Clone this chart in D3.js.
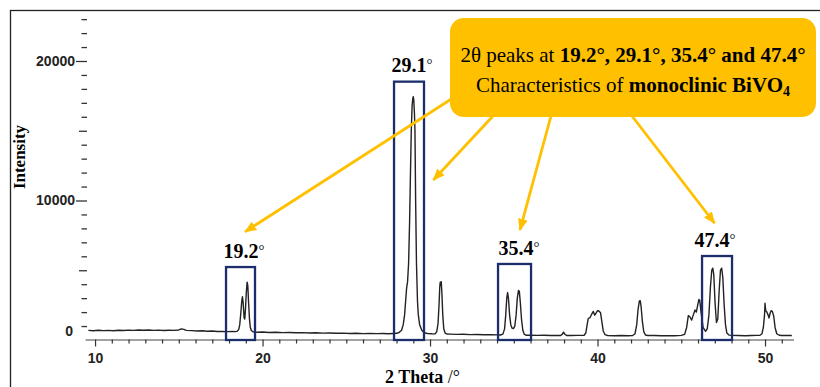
<!DOCTYPE html>
<html>
<head>
<meta charset="utf-8">
<script src="https://cdn.jsdelivr.net/npm/d3@7/dist/d3.min.js"></script>
<style>
  body { margin: 0; background: #fff; }
  svg { display: block; }
</style>
</head>
<body>
<div id="chart"></div>
<script>
////////////////////////////////////////////////////////////////////
////////////////////////////  Data  ////////////////////////////////

// XRD pattern: [2 theta, intensity]
const pattern = [
  [9.6, 690], [9.9, 660], [10.2, 700], [10.5, 670], [10.8, 690], [11.1, 660],
  [11.4, 700], [11.7, 680], [12.0, 710], [12.3, 690], [12.6, 720], [12.9, 700],
  [13.2, 720], [13.5, 690], [13.8, 710], [14.1, 680], [14.4, 700], [14.7, 690],
  [15.0, 720], [15.15, 800], [15.3, 760], [15.45, 690], [15.8, 670], [16.1, 650],
  [16.4, 660], [16.7, 630], [17.0, 640], [17.3, 610], [17.6, 620], [17.9, 600],
  [18.2, 610], [18.4, 600], [18.5, 640], [18.58, 760], [18.64, 1100], [18.7, 1900],
  [18.76, 2800], [18.8, 3100], [18.84, 2700], [18.9, 1600], [18.94, 1500], [18.98, 2200],
  [19.03, 3400], [19.08, 4150], [19.12, 3900], [19.17, 2600], [19.22, 1500], [19.27, 900],
  [19.33, 680], [19.42, 590], [19.55, 570], [19.7, 560], [20.0, 570], [20.4, 540],
  [20.8, 555], [21.2, 530], [21.6, 540], [22.0, 520], [22.4, 530], [22.8, 505],
  [23.2, 515], [23.6, 495], [24.0, 505], [24.4, 480], [24.8, 490], [25.2, 470],
  [25.6, 480], [26.0, 460], [26.4, 470], [26.8, 455], [27.2, 465], [27.5, 450],
  [27.8, 470], [28.0, 480], [28.15, 540], [28.3, 700], [28.4, 1100], [28.48, 1800],
  [28.55, 2900], [28.6, 3700], [28.66, 4200], [28.72, 5500], [28.78, 8500], [28.84, 12500],
  [28.88, 15000], [28.93, 16800], [28.97, 17300], [29.0, 17450], [29.03, 17200], [29.07, 16200],
  [29.1, 15000], [29.14, 10000], [29.19, 5500], [29.25, 2800], [29.3, 1800], [29.38, 1100],
  [29.5, 720], [29.65, 520], [29.85, 470], [30.1, 450], [30.3, 440], [30.4, 600],
  [30.48, 1200], [30.54, 2600], [30.58, 3800], [30.61, 4150], [30.64, 3900], [30.67, 4180],
  [30.71, 3300], [30.76, 1800], [30.82, 800], [30.9, 500], [31.0, 430], [31.2, 420],
  [31.6, 400], [32.0, 410], [32.4, 385], [32.8, 395], [33.2, 375], [33.6, 380],
  [34.0, 365], [34.2, 360], [34.35, 420], [34.45, 800], [34.52, 1800], [34.58, 3000],
  [34.63, 3400], [34.68, 3000], [34.75, 1800], [34.82, 1100], [34.9, 850], [34.98, 820],
  [35.06, 1000], [35.14, 1800], [35.21, 3000], [35.28, 3550], [35.33, 3500], [35.39, 2700],
  [35.46, 1500], [35.54, 700], [35.62, 420], [35.75, 340], [36.0, 340], [36.4, 330],
  [36.8, 340], [37.2, 320], [37.5, 330], [37.8, 320], [37.9, 420], [37.97, 560],
  [38.04, 430], [38.15, 320], [38.4, 320], [38.8, 330], [39.2, 340], [39.3, 500],
  [39.38, 1100], [39.45, 1550], [39.55, 1600], [39.65, 1850], [39.75, 2050], [39.83, 1780],
  [39.9, 1900], [40.0, 2100], [40.08, 2080], [40.18, 1950], [40.26, 1300], [40.34, 650],
  [40.45, 380], [40.6, 320], [41.0, 310], [41.4, 320], [41.8, 310], [42.1, 320],
  [42.24, 450], [42.34, 1100], [42.42, 2200], [42.5, 2800], [42.55, 2820], [42.6, 2400],
  [42.68, 1300], [42.76, 600], [42.86, 360], [43.0, 320], [43.4, 320], [43.8, 305],
  [44.2, 315], [44.6, 310], [45.0, 330], [45.2, 400], [45.32, 900], [45.42, 1750],
  [45.52, 1650], [45.62, 1430], [45.72, 1800], [45.82, 2150], [45.9, 2000], [45.98, 2500],
  [46.05, 2900], [46.1, 2850], [46.18, 2000], [46.3, 900], [46.45, 620], [46.55, 800],
  [46.65, 1800], [46.74, 3800], [46.82, 5000], [46.88, 5150], [46.94, 4700], [47.02, 2600],
  [47.1, 1250], [47.18, 1500], [47.26, 3500], [47.34, 5000], [47.41, 5150], [47.48, 4500],
  [47.56, 2500], [47.64, 1100], [47.72, 500], [47.85, 350], [48.0, 330], [48.4, 320],
  [48.8, 310], [49.2, 320], [49.5, 330], [49.7, 340], [49.82, 450], [49.9, 900],
  [49.97, 1800], [50.0, 2630], [50.04, 2100], [50.1, 2030], [50.18, 1800], [50.24, 1580],
  [50.3, 1900], [50.36, 2100], [50.44, 2050], [50.52, 1700], [50.6, 900], [50.7, 450],
  [50.85, 340], [51.0, 320], [51.3, 330], [51.6, 320]
];

// axes
const xMajorTicks = [10, 20, 30, 40, 50];
const yMajorTicks = [10000, 20000];
const yMidTicks = [5000, 15000];

// highlighted peaks
const peakLabels = ["19.2", "29.1", "35.4", "47.4"];
const peakBoxFrom = [17.82, 27.85, 34.06, 46.24];
const peakBoxTo = [19.55, 29.64, 36.03, 48.03];
const peakBoxTop = [5230, 18520, 5450, 6020];
const labelTheta = [18.9, 28.93, 35.31, 47.01];
const labelCounts = [5880, 19210, 6090, 6670];
const arrowTipTheta = [18.96, 30.2, 35.37, 46.99];
const arrowTipCounts = [7760, 11470, 7890, 8370];

////////////////////////////////////////////////////////////////////
////////////////////////////  Init  ////////////////////////////////

const width = 820;
const height = 387;

const svg = d3.select("#chart").append("svg")
  .attr("width", width)
  .attr("height", height);

const serif = "'Liberation Serif', 'Times New Roman', serif";
const sans = "'Liberation Sans', Arial, sans-serif";
const gold = "#FFC000";
const navy = "#1c2d6b";

// scale
const xScale = d3.scaleLinear().domain([9.4, 51.7]).range([85, 793.5]);
const yScale = d3.scaleLinear().domain([0, 20000]).range([340, 61]);

// frame
svg.append("rect")
  .attr("x", 10.5).attr("y", 10.5)
  .attr("width", 830).attr("height", 400)
  .attr("fill", "none")
  .attr("stroke", "#222")
  .attr("stroke-width", 1.3);

// x axis
const xAxis = d3.axisBottom(xScale)
  .tickValues(xMajorTicks)
  .tickSize(7)
  .tickSizeOuter(0)
  .tickFormat(d3.format("d"));

const xMinor = d3.axisBottom(xScale)
  .tickValues(d3.range(10, 52).filter((v) => v % 10 !== 0))
  .tickSize(4)
  .tickFormat("");

const gx = svg.append("g")
  .attr("class", "x-axis")
  .attr("transform", "translate(0, 339.5)")
  .call(xAxis);
gx.select(".domain").attr("stroke", "#444");
gx.selectAll(".tick line").attr("stroke", "#333").attr("stroke-width", 1.2);
gx.selectAll(".tick text")
  .attr("y", 14)
  .attr("fill", "#222")
  .style("font-family", sans)
  .style("font-size", "14px")
  .style("font-weight", "bold");

svg.append("g")
  .attr("transform", "translate(0, 339.5)")
  .call(xMinor)
  .call((g) => g.select(".domain").remove())
  .selectAll(".tick line").attr("stroke", "#333").attr("stroke-width", 1.2);

// y axis (ticks only, no line)
const yAxis = d3.axisLeft(yScale)
  .tickValues(yMajorTicks)
  .tickSize(11)
  .tickFormat(d3.format("d"));

const gy = svg.append("g")
  .attr("class", "y-axis")
  .attr("transform", "translate(87, 0)")
  .call(yAxis);
gy.select(".domain").remove();
gy.selectAll(".tick line").attr("stroke", "#333").attr("stroke-width", 1.3);
gy.selectAll(".tick text")
  .attr("x", -12)
  .attr("fill", "#222")
  .style("font-family", sans)
  .style("font-size", "14px")
  .style("font-weight", "bold");

svg.append("g")
  .attr("transform", "translate(87, 0)")
  .call(d3.axisLeft(yScale).tickValues(yMidTicks).tickSize(8).tickFormat(""))
  .call((g) => g.select(".domain").remove())
  .selectAll(".tick line").attr("stroke", "#333").attr("stroke-width", 1.3);

svg.append("g")
  .attr("transform", "translate(87, 0)")
  .call(d3.axisLeft(yScale)
    .tickValues(d3.range(1000, 24000, 1000).filter((v) => v % 5000 !== 0))
    .tickSize(5.5)
    .tickFormat(""))
  .call((g) => g.select(".domain").remove())
  .selectAll(".tick line").attr("stroke", "#333").attr("stroke-width", 1.3);

// zero label sits a little above the baseline
svg.append("text")
  .attr("x", 73)
  .attr("y", yScale(0) - 8)
  .attr("dy", "0.32em")
  .attr("text-anchor", "end")
  .attr("fill", "#222")
  .style("font-family", sans)
  .style("font-size", "14px")
  .style("font-weight", "bold")
  .text("0");

// axis titles
svg.append("text")
  .attr("transform", "translate(25, 157) rotate(-90)")
  .attr("text-anchor", "middle")
  .style("font-family", serif)
  .style("font-size", "17px")
  .style("font-weight", "bold")
  .text("Intensity");

const xTitle = svg.append("text")
  .attr("x", 385)
  .attr("y", 383)
  .style("font-family", serif)
  .style("font-size", "18px");
xTitle.append("tspan").style("font-weight", "bold").text("2 Theta");
xTitle.append("tspan").text(" /°");

// pattern line
const line = d3.line()
  .x((d) => xScale(d[0]))
  .y((d) => yScale(d[1]));

svg.append("path")
  .datum(pattern)
  .attr("d", line)
  .attr("fill", "none")
  .attr("stroke", "#222")
  .attr("stroke-width", 1.4)
  .attr("stroke-linejoin", "round");

// peak boxes
svg.selectAll(".peak-box")
  .data(peakLabels)
  .join("rect")
  .attr("class", "peak-box")
  .attr("x", (d, i) => xScale(peakBoxFrom[i]))
  .attr("y", (d, i) => yScale(peakBoxTop[i]))
  .attr("width", (d, i) => xScale(peakBoxTo[i]) - xScale(peakBoxFrom[i]))
  .attr("height", (d, i) => yScale(0) - yScale(peakBoxTop[i]))
  .attr("fill", "none")
  .attr("stroke", navy)
  .attr("stroke-width", 2.3);

// peak labels
const labels = svg.selectAll(".peak-label")
  .data(peakLabels)
  .join("text")
  .attr("class", "peak-label")
  .attr("x", (d, i) => xScale(labelTheta[i]))
  .attr("y", (d, i) => yScale(labelCounts[i]))
  .attr("text-anchor", "middle")
  .style("font-family", serif);
labels.append("tspan").style("font-size", "20px").style("font-weight", "bold").text((d) => d);
labels.append("tspan").attr("dy", -3).style("font-size", "15px").text("°");

// callout arrows
const callout = { x: 450, y: 18, w: 366, h: 99, r: 14 };
const arrowFrom = [[470, 87], [493, 116], [551, 116], [632, 116]];

svg.append("defs").append("marker")
  .attr("id", "head")
  .attr("markerUnits", "userSpaceOnUse")
  .attr("viewBox", "0 0 12 10")
  .attr("refX", 11)
  .attr("refY", 5)
  .attr("markerWidth", 12)
  .attr("markerHeight", 10)
  .attr("orient", "auto")
  .append("path")
  .attr("d", "M0,0 L12,5 L0,10 Z")
  .attr("fill", gold);

svg.selectAll(".arrow")
  .data(peakLabels)
  .join("line")
  .attr("class", "arrow")
  .attr("x1", (d, i) => arrowFrom[i][0])
  .attr("y1", (d, i) => arrowFrom[i][1])
  .attr("x2", (d, i) => xScale(arrowTipTheta[i]))
  .attr("y2", (d, i) => yScale(arrowTipCounts[i]))
  .attr("stroke", gold)
  .attr("stroke-width", 2.8)
  .attr("marker-end", "url(#head)");

// callout box
svg.append("rect")
  .attr("x", callout.x).attr("y", callout.y)
  .attr("width", callout.w).attr("height", callout.h)
  .attr("rx", callout.r)
  .attr("fill", gold);

const cx = callout.x + callout.w / 2;
const t1 = svg.append("text")
  .attr("x", cx).attr("y", 62)
  .attr("text-anchor", "middle")
  .style("font-family", serif)
  .style("font-size", "21px");
t1.append("tspan").text("2θ peaks at ");
t1.append("tspan").style("font-weight", "bold").text("19.2°, 29.1°, 35.4° and 47.4°");

const t2 = svg.append("text")
  .attr("x", cx).attr("y", 92)
  .attr("text-anchor", "middle")
  .style("font-family", serif)
  .style("font-size", "21px");
t2.append("tspan").text("Characteristics of ");
t2.append("tspan").style("font-weight", "bold").text("monoclinic BiVO");
t2.append("tspan").attr("dy", 4).style("font-weight", "bold").style("font-size", "14px").text("4");
</script>
</body>
</html>
